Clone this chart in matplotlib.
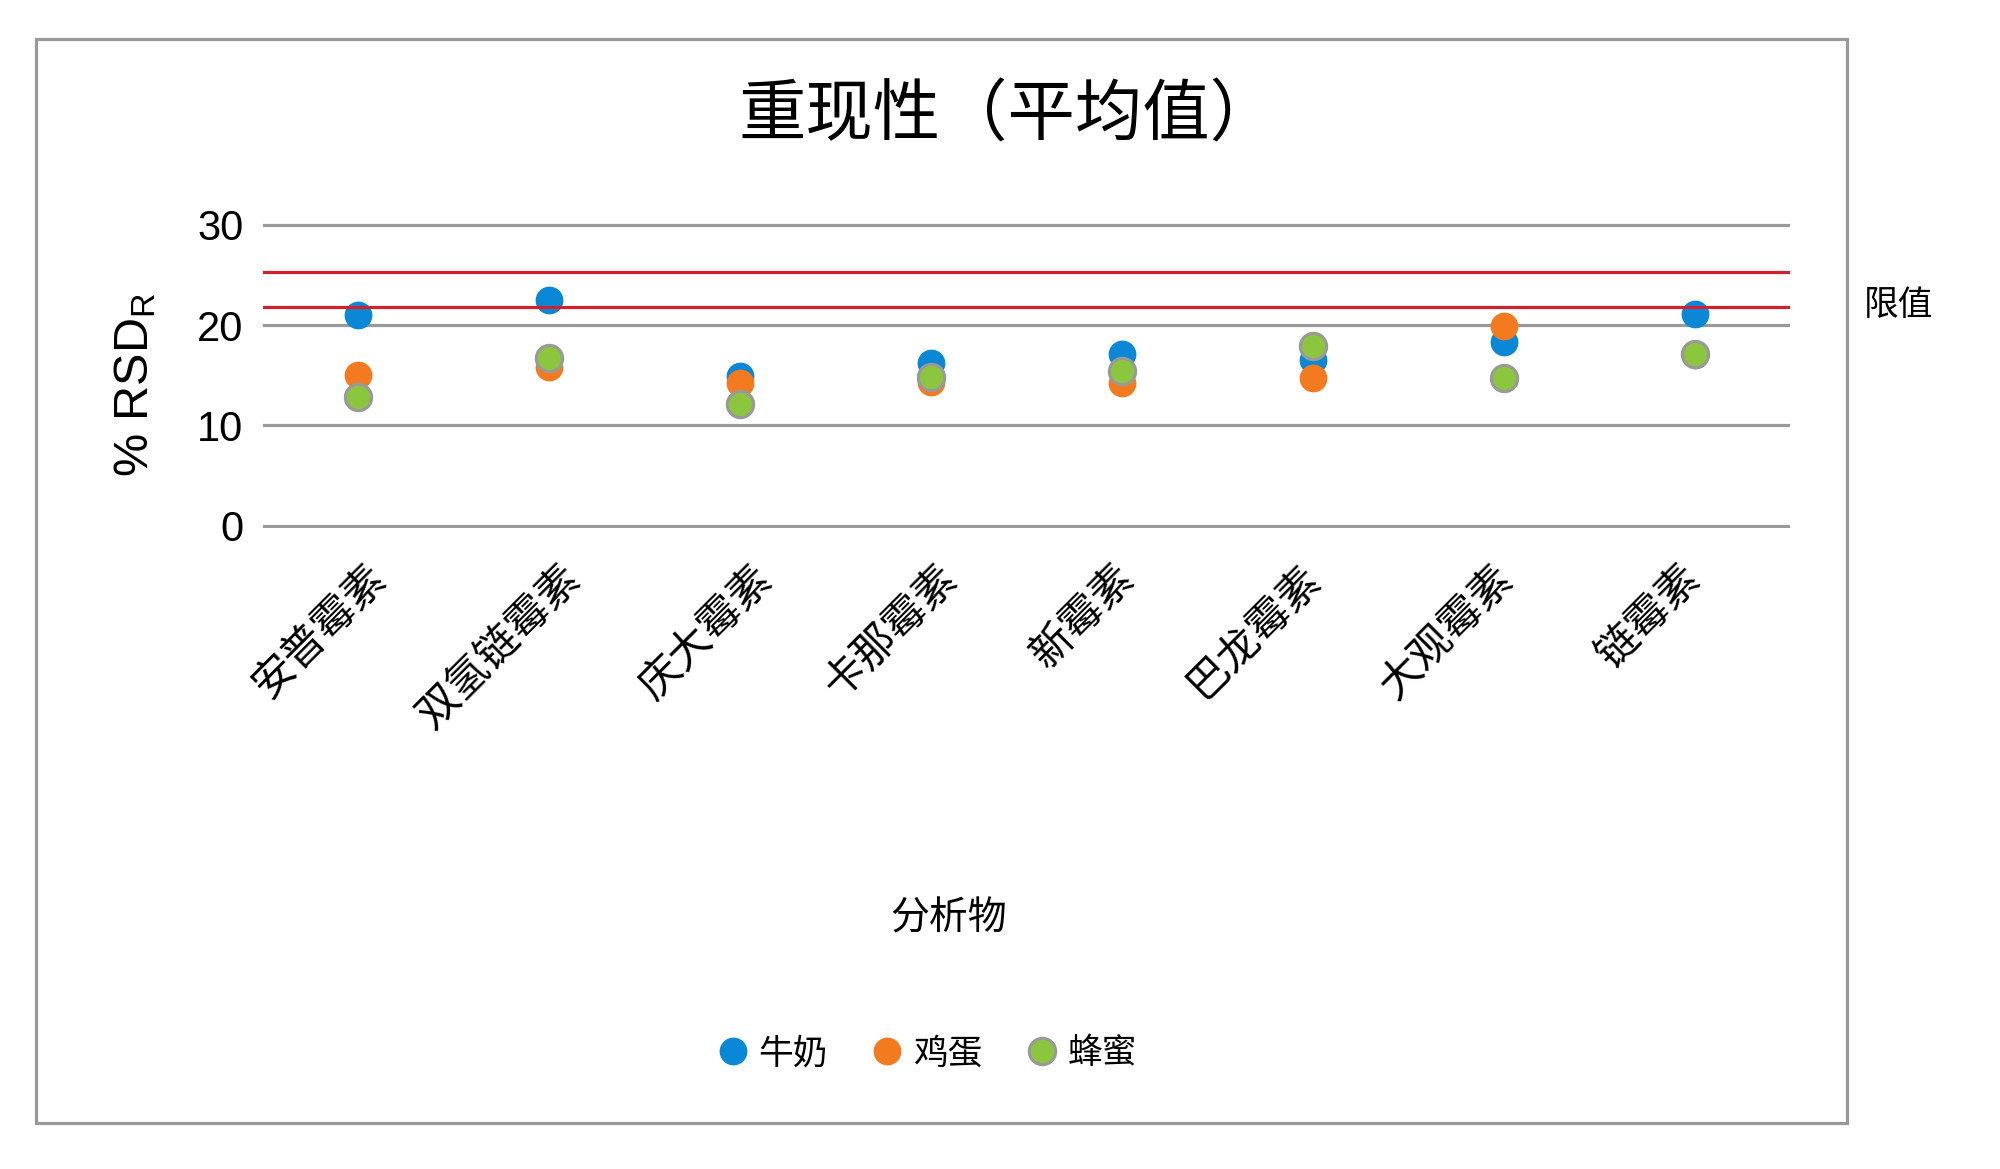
import matplotlib
matplotlib.use("Agg")
import matplotlib.pyplot as plt
from matplotlib.patches import Rectangle
from matplotlib.lines import Line2D
from matplotlib.transforms import ScaledTranslation

plt.rcParams['font.family'] = ['Liberation Sans', 'Noto Sans CJK SC', 'DejaVu Sans']
plt.rcParams['mathtext.fontset'] = 'custom'
plt.rcParams['mathtext.rm'] = 'Liberation Sans'
plt.rcParams['mathtext.it'] = 'Liberation Sans'

# data
analytes = ["安普霉素", "双氢链霉素", "庆大霉素", "卡那霉素", "新霉素", "巴龙霉素", "大观霉素", "链霉素"]
milk = [21.0, 22.5, 14.9, 16.2, 17.1, 16.5, 18.3, 21.1]
egg = [15.0, 15.8, 14.2, 14.3, 14.2, 14.7, 19.9, 17.0]
honey = [12.85, 16.7, 12.1, 14.8, 15.4, 17.9, 14.7, 17.1]
limits = [25.25, 21.8]
yticks = [0, 10, 20, 30]

blue, orange, green = "#0a88d6", "#f47a20", "#8cc63f"
gray = "#999999"
red = "#d3202f"

W, H = 2000, 1169
fig = plt.figure(figsize=(W / 100, H / 100), dpi=100)

# axes box in pixels: x 263..1790, y (top) 222.5..528
ax = fig.add_axes([263 / W, 1 - 528 / H, (1790 - 263) / W, (528 - 222.5) / H])
x = list(range(len(analytes)))

ax.set_xlim(-0.5, len(analytes) - 0.5)
ax.set_ylim(-0.2, 30.2)
ax.set_yticks(yticks)
ax.yaxis.grid(True, color=gray, lw=2.3, zorder=0)
ax.set_axisbelow(True)
for s in ax.spines.values():
    s.set_visible(False)
ax.tick_params(axis="both", length=0)
ax.tick_params(axis="y", labelsize=30, pad=14)

ax.scatter(x, milk, s=400, color=blue, lw=0, zorder=3)
ax.scatter(x, egg, s=400, color=orange, lw=0, zorder=4)
ax.scatter(x, honey, s=360, color=green, edgecolor=gray, lw=2.2, zorder=5)
for lim in limits:
    ax.axhline(lim, color=red, lw=2.3, zorder=6)

ax.set_xticks(x)
ax.set_xticklabels(analytes, fontsize=30.5, rotation=45, ha="right", va="center",
                   rotation_mode="anchor")
ax.tick_params(axis="x", pad=32)
# the reference labels drift a little against their ticks
label_shift = [21, 26, 26, 21, 6, 2, 3, 0]
for lab, dx in zip(ax.get_xticklabels(), label_shift):
    lab.set_transform(lab.get_transform() + ScaledTranslation(dx / 100, 0, fig.dpi_scale_trans))

fig.text(135 / W, 1 - 385 / H, "% RSD$_{\\mathrm{R}}$", rotation=90, ha="center", va="center",
         fontsize=35)
fig.text(1008 / W, 1 - 117 / H, "重现性（平均值）", ha="center", va="center", fontsize=48.5)
fig.text(949 / W, 1 - 919 / H, "分析物", ha="center", va="center", fontsize=28)
fig.text(1899 / W, 1 - 305 / H, "限值", ha="center", va="center", fontsize=25)

handles = [
    Line2D([], [], ls="none", marker="o", ms=20, mfc=blue, mec=blue, mew=0),
    Line2D([], [], ls="none", marker="o", ms=20, mfc=orange, mec=orange, mew=0),
    Line2D([], [], ls="none", marker="o", ms=19, mfc=green, mec=gray, mew=2.2),
]
fig.legend(handles, ["牛奶", "鸡蛋", "蜂蜜"], loc="center", bbox_to_anchor=(928 / W, 1 - 1054 / H),
           ncol=3, frameon=False, fontsize=25, handlelength=0.8, handletextpad=0.35,
           columnspacing=1.3, borderpad=0)

# outer frame
fig.patches.append(Rectangle((36, H - 1123), 1847 - 36, 1123 - 39, transform=None,
                             fill=False, edgecolor=gray, lw=2.3))

fig.savefig("out.png", dpi=100, facecolor="white")
